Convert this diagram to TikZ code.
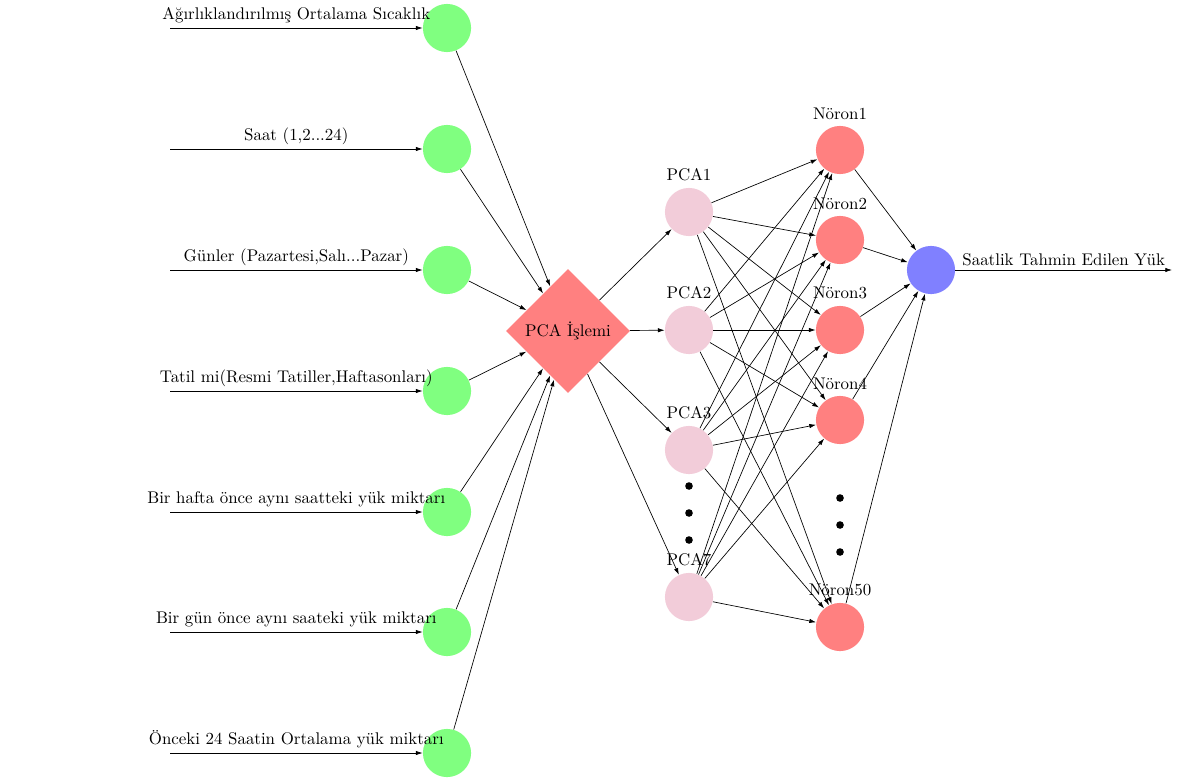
\documentclass[tikz,border=0pt]{standalone}
\usetikzlibrary{shapes.geometric,arrows.meta}
\begin{document}
\begin{tikzpicture}[x=0.592pt,y=-0.592pt,
  inp/.style={circle,fill=green!50,minimum size=28.5pt,inner sep=0pt},
  pcn/.style={circle,fill=purple!20,minimum size=28.5pt,inner sep=0pt},
  neu/.style={circle,fill=red!50,minimum size=28.5pt,inner sep=0pt},
  outn/.style={circle,fill=blue!50,minimum size=28.5pt,inner sep=0pt},
  proc/.style={diamond,fill=red!50,minimum size=73.5pt,inner sep=0pt},
  conn/.style={-{Latex[length=4pt,width=2.6pt]},line width=0.4pt},
  bigdot/.style={circle,fill=black,minimum size=4.5pt,inner sep=0pt},
  lbl/.style={inner sep=2.5pt,anchor=south},
  tag/.style={label={[inner sep=3.5pt]above:#1}}]
\useasboundingbox (0,0) rectangle (1189,781);

% input layer
\node[inp] (i1) at (447,28) {};
\node[inp] (i2) at (447,149) {};
\node[inp] (i3) at (447,270) {};
\node[inp] (i4) at (447,391) {};
\node[inp] (i5) at (447,512) {};
\node[inp] (i6) at (447,632) {};
\node[inp] (i7) at (447,753) {};

\coordinate (s1) at (170,28);
\coordinate (s2) at (170,149);
\coordinate (s3) at (170,270);
\coordinate (s4) at (170,391);
\coordinate (s5) at (170,512);
\coordinate (s6) at (170,632);
\coordinate (s7) at (170,753);

\draw[conn] (s1) -- node[lbl]{Ağırlıklandırılmış Ortalama Sıcaklık} (i1);
\draw[conn] (s2) -- node[lbl]{Saat (1,2...24)} (i2);
\draw[conn] (s3) -- node[lbl]{Günler (Pazartesi,Salı...Pazar)} (i3);
\draw[conn] (s4) -- node[lbl]{Tatil mi(Resmi Tatiller,Haftasonları)} (i4);
\draw[conn] (s5) -- node[lbl]{Bir hafta önce aynı saatteki yük miktarı} (i5);
\draw[conn] (s6) -- node[lbl]{Bir gün önce aynı saateki yük miktarı} (i6);
\draw[conn] (s7) -- node[lbl]{Önceki 24 Saatin Ortalama yük miktarı} (i7);

% PCA step
\node[proc] (pca) at (568,331) {PCA İşlemi};
\foreach \k in {1,...,7} \draw[conn] (i\k) -- (pca);

% principal components
\node[pcn,tag=PCA1] (p1) at (689,212) {};
\node[pcn,tag=PCA2] (p2) at (689,330) {};
\node[pcn,tag=PCA3] (p3) at (689,450) {};
\node[pcn,tag=PCA7] (p7) at (689,597) {};
\node[bigdot] (pd1) at (689,486) {};
\node[bigdot] (pd2) at (689,513) {};
\node[bigdot] (pd3) at (689,540) {};
\foreach \k in {1,2,3,7} \draw[conn] (pca) -- (p\k);

% hidden layer
\node[neu,tag=Nöron1] (n1) at (840,150) {};
\node[neu,tag=Nöron2] (n2) at (840,240) {};
\node[neu,tag=Nöron3] (n3) at (840,330) {};
\node[neu,tag=Nöron4] (n4) at (840,420) {};
\node[neu,tag=Nöron50] (n50) at (840,627) {};
\node[bigdot] (nd1) at (840,498) {};
\node[bigdot] (nd2) at (840,525) {};
\node[bigdot] (nd3) at (840,552) {};
\foreach \a in {1,2,3,7}
  \foreach \b in {1,2,3,4,50}
    \draw[conn] (p\a) -- (n\b);

% output
\node[outn] (o) at (931,270) {};
\foreach \b in {1,2,3,4,50} \draw[conn] (n\b) -- (o);
\coordinate (oe) at (1172,270);
\draw[conn] (o) -- node[lbl]{Saatlik Tahmin Edilen Yük} (oe);
\end{tikzpicture}
\end{document}
